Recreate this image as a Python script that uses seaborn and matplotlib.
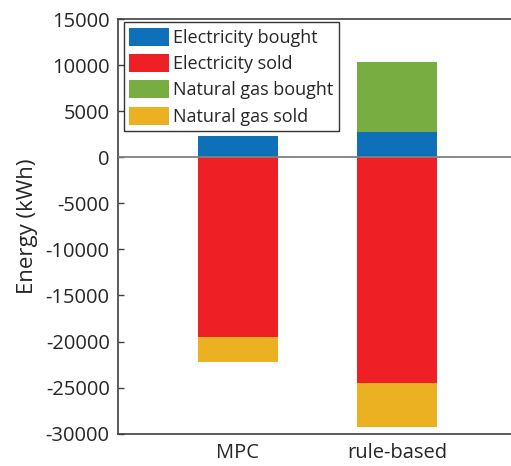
import matplotlib
matplotlib.use("Agg")
import matplotlib.pyplot as plt
from matplotlib.patches import Patch
import numpy as np
import pandas as pd
import seaborn as sns

# Energy exchanged per control strategy (kWh)
strategies = ["MPC", "rule-based"]
electricity_bought = [2270, 2780]
natural_gas_bought = [0, 7540]
electricity_sold = [-19460, -24470]
natural_gas_sold = [-2810, -4770]

series_names = ["Electricity bought", "Electricity sold", "Natural gas bought", "Natural gas sold"]
colors = {
    "Electricity bought": "#0D70B9",
    "Electricity sold": "#EE1F25",
    "Natural gas bought": "#78AD42",
    "Natural gas sold": "#EBB123",
}

sns.set_theme(style="white")
plt.rcParams["font.family"] = ["Open Sans", "DejaVu Sans"]
plt.rcParams["axes.unicode_minus"] = False

df = pd.DataFrame({
    "strategy": strategies,
    "elec_bought": electricity_bought,
    "gas_bought": natural_gas_bought,
    "elec_sold": electricity_sold,
    "gas_sold": natural_gas_sold,
})
# stacked tops: positive segments stack upward, negative segments downward
df["pos_total"] = df["elec_bought"] + df["gas_bought"]
df["neg_total"] = df["elec_sold"] + df["gas_sold"]

fig = plt.figure(figsize=(5.11, 4.66), dpi=100)
ax = fig.add_axes([0.2309, 0.0693, 0.781, 0.8899])

layers = [
    ("pos_total", "Natural gas bought"),
    ("elec_bought", "Electricity bought"),
    ("neg_total", "Natural gas sold"),
    ("elec_sold", "Electricity sold"),
]
for col, name in layers:
    sns.barplot(data=df, x="strategy", y=col, order=strategies, color=colors[name],
                width=0.5, saturation=1, linewidth=0, ax=ax, errorbar=None)

ax.axhline(0, color="#808080", linewidth=1.3, zorder=5)

ax.set_xlim(-0.75, 1.75)
ax.set_ylim(-30000, 15000)
ax.set_yticks(np.arange(-30000, 15001, 5000))
ax.set_xlabel("")
ax.set_ylabel("Energy (kWh)", fontsize=16, color="#262626", labelpad=0)
ax.yaxis.set_label_coords(-0.2, 0.5)
ax.tick_params(axis="y", direction="in", length=4, width=1, color="#404040",
               labelsize=14.5, labelcolor="#262626", left=True, pad=6)
ax.tick_params(axis="x", length=0, labelsize=14.5, labelcolor="#262626", pad=7)

for side in ["left", "bottom", "top"]:
    ax.spines[side].set_color("#404040")
    ax.spines[side].set_linewidth(1.2)
ax.spines["right"].set_visible(False)

handles = [Patch(facecolor=colors[n], edgecolor="none", label=n) for n in series_names]
leg = ax.legend(handles=handles, loc="upper left", bbox_to_anchor=(0.014, 0.992),
                fontsize=13, frameon=True, fancybox=False, edgecolor="#000000",
                handlelength=2.2, handleheight=1.15, labelspacing=0.4,
                handletextpad=0.25, borderpad=0.3, borderaxespad=0)
leg.get_frame().set_linewidth(1.0)

fig.savefig("out.png", dpi=100)
